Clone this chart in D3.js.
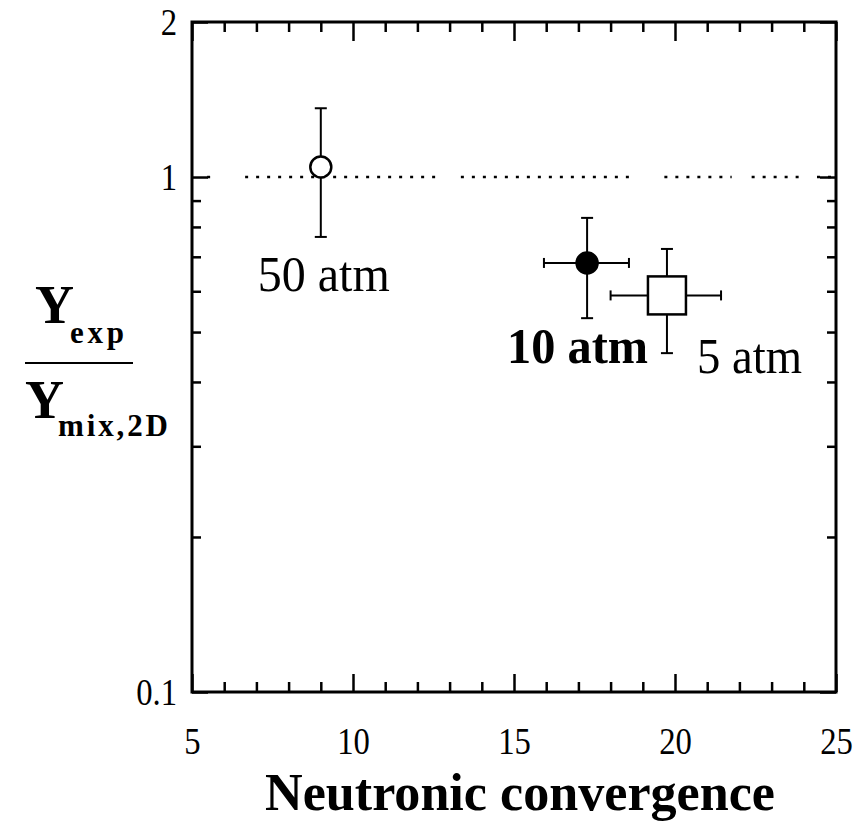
<!DOCTYPE html>
<html lang="en">
<head>
    <meta charset="utf-8">
    <title>Neutronic convergence</title>
    <style>
        body{ margin: 0; background: #fff; }
        svg text{ font-family: "Liberation Serif", "Times New Roman", serif; fill: #000; }
    </style>
</head>
<body>
    <script src="https://cdnjs.cloudflare.com/ajax/libs/d3/7.9.0/d3.min.js"></script>
    <script>

    // data
    const labels = ["50 atm", "10 atm", "5 atm"];
    const xVals = [9.0, 17.27, 19.75];
    const xLow = [null, 15.93, 18.0];
    const xHigh = [null, 18.57, 21.43];
    const yVals = [1.046, 0.681, 0.589];
    const yLow = [0.765, 0.532, 0.455];
    const yHigh = [1.36, 0.833, 0.725];
    const markers = ["openCircle", "filledCircle", "square"];

    const xTickLabels = [5, 10, 15, 20, 25];
    const yTickLabels = [0.1, 1, 2];
    // the reference line y = 1 is broken in a few places
    const refSegments = [[5.47, 5.72], [6.65, 12.73], [13.35, 18.74], [19.67, 21.76], [22.38, 23.85], [24.41, 25]];

    const width = 864, height = 822;
    const margin = {top: 22, right: 28, bottom: 130, left: 192};

    const svg = d3.select("body").append("svg")
        .attr("width", width)
        .attr("height", height);

    const x = d3.scaleLinear().domain([5, 25]).range([margin.left, width - margin.right]);
    const y = d3.scaleLog().domain([0.1, 2]).range([height - margin.bottom, margin.top]);

    const x0 = x.range()[0], x1 = x.range()[1];
    const y0 = y.range()[0], y1 = y.range()[1];

    const minorX = d3.range(5, 26, 1).filter(v => v % 5 !== 0);
    const minorY = [0.2, 0.3, 0.4, 0.5, 0.6, 0.7, 0.8, 0.9];

    function styleAxis(g){
        g.select(".domain").remove();
        g.selectAll("line").attr("stroke", "#000").attr("stroke-width", 2.5);
    }

    // the scanned tick labels are tall and narrow
    function narrowLabels(sel){
        sel.style("font-size", "38px").style("font-family", "Liberation Serif")
            .each(function(){
                const w = this.getComputedTextLength();
                d3.select(this).attr("textLength", w * 0.86).attr("lengthAdjust", "spacingAndGlyphs");
            });
    }

    // x ticks bottom
    svg.append("g").attr("transform", `translate(0,${y0})`)
        .call(d3.axisBottom(x).tickValues(minorX).tickSize(-10).tickFormat(""))
        .call(styleAxis);
    svg.append("g").attr("transform", `translate(0,${y0})`)
        .call(d3.axisBottom(x).tickValues(xTickLabels).tickSize(-18).tickPadding(35).tickFormat(d3.format("d")))
        .call(styleAxis)
        .selectAll("text").call(narrowLabels);

    // x ticks top
    svg.append("g").attr("transform", `translate(0,${y1})`)
        .call(d3.axisTop(x).tickValues(minorX).tickSize(-10).tickFormat(""))
        .call(styleAxis);
    svg.append("g").attr("transform", `translate(0,${y1})`)
        .call(d3.axisTop(x).tickValues(xTickLabels).tickSize(-19).tickFormat(""))
        .call(styleAxis);

    // y ticks left
    svg.append("g").attr("transform", `translate(${x0},0)`)
        .call(d3.axisLeft(y).tickValues(minorY).tickSize(-9).tickFormat(""))
        .call(styleAxis);
    svg.append("g").attr("transform", `translate(${x0},0)`)
        .call(d3.axisLeft(y).tickValues(yTickLabels).tickSize(-16).tickPadding(15).tickFormat(d => d < 1 ? d3.format(".1f")(d) : d3.format("d")(d)))
        .call(styleAxis)
        .selectAll("text").call(narrowLabels);

    // y ticks right
    svg.append("g").attr("transform", `translate(${x1},0)`)
        .call(d3.axisRight(y).tickValues(minorY).tickSize(-9).tickFormat(""))
        .call(styleAxis);
    svg.append("g").attr("transform", `translate(${x1},0)`)
        .call(d3.axisRight(y).tickValues(yTickLabels).tickSize(-16).tickFormat(""))
        .call(styleAxis);

    // frame
    svg.append("rect")
        .attr("x", x0).attr("y", y1)
        .attr("width", x1 - x0).attr("height", y0 - y1)
        .attr("fill", "none").attr("stroke", "#000").attr("stroke-width", 3);

    // dotted reference line
    svg.selectAll(".ref")
        .data(refSegments)
        .enter().append("line")
        .attr("class", "ref")
        .attr("x1", d => x(d[0])).attr("x2", d => x(d[1]))
        .attr("y1", y(1)).attr("y2", y(1))
        .attr("stroke", "#000").attr("stroke-width", 2.5)
        .attr("stroke-dasharray", "3,8");

    const pts = labels.map((l, i) => ({
        label: l, x: xVals[i], y: yVals[i], xl: xLow[i], xh: xHigh[i], yl: yLow[i], yh: yHigh[i], m: markers[i]
    }));

    const cap = 6;
    const eb = svg.append("g").attr("stroke", "#000").attr("stroke-width", 2);

    pts.forEach(d => {
        // vertical error bar
        eb.append("line").attr("x1", x(d.x)).attr("x2", x(d.x)).attr("y1", y(d.yl)).attr("y2", y(d.yh));
        eb.append("line").attr("x1", x(d.x) - cap).attr("x2", x(d.x) + cap).attr("y1", y(d.yl)).attr("y2", y(d.yl));
        eb.append("line").attr("x1", x(d.x) - cap).attr("x2", x(d.x) + cap).attr("y1", y(d.yh)).attr("y2", y(d.yh));
        if (d.xl != null){
            eb.append("line").attr("x1", x(d.xl)).attr("x2", x(d.xh)).attr("y1", y(d.y)).attr("y2", y(d.y));
            eb.append("line").attr("x1", x(d.xl)).attr("x2", x(d.xl)).attr("y1", y(d.y) - 5).attr("y2", y(d.y) + 5);
            eb.append("line").attr("x1", x(d.xh)).attr("x2", x(d.xh)).attr("y1", y(d.y) - 5).attr("y2", y(d.y) + 5);
        }
    });

    const mk = svg.append("g");
    pts.forEach(d => {
        if (d.m === "square"){
            mk.append("rect")
                .attr("x", x(d.x) - 19).attr("y", y(d.y) - 19)
                .attr("width", 38).attr("height", 38)
                .attr("fill", "#fff").attr("stroke", "#000").attr("stroke-width", 2.5);
        } else {
            mk.append("circle")
                .attr("cx", x(d.x)).attr("cy", y(d.y)).attr("r", 10.5)
                .attr("fill", d.m === "filledCircle" ? "#000" : "#fff")
                .attr("stroke", "#000").attr("stroke-width", 2.5);
        }
    });

    // point labels (offsets from the marker, in px)
    const labelStyle = [
        {dx: -63, dy: 124, w: 132, bold: false},
        {dx: -80, dy: 100, w: 141, bold: true},
        {dx: 30, dy: 78, w: 105, bold: false}
    ];
    pts.forEach((d, i) => {
        const s = labelStyle[i];
        svg.append("text")
            .attr("x", x(d.x) + s.dx).attr("y", y(d.y) + s.dy)
            .attr("textLength", s.w).attr("lengthAdjust", "spacingAndGlyphs")
            .style("font-size", "50px")
            .style("font-weight", s.bold ? "bold" : "normal")
            .text(d.label);
    });

    // x axis title
    svg.append("text")
        .attr("x", (x0 + x1) / 2 + 6).attr("y", 810)
        .attr("text-anchor", "middle")
        .attr("textLength", 510).attr("lengthAdjust", "spacingAndGlyphs")
        .style("font-size", "52px").style("font-weight", "bold")
        .text("Neutronic  convergence");

    // y axis title as a fraction
    const yt = svg.append("g").style("font-weight", "bold");
    yt.append("text").attr("x", 35).attr("y", 323).style("font-size", "54px").text("Y");
    yt.append("text").attr("x", 70).attr("y", 343).style("font-size", "31px")
        .attr("textLength", 54).attr("lengthAdjust", "spacing").text("exp");
    yt.append("line").attr("x1", 25).attr("x2", 133).attr("y1", 363).attr("y2", 363)
        .attr("stroke", "#000").attr("stroke-width", 2);
    yt.append("text").attr("x", 25).attr("y", 418).style("font-size", "54px").text("Y");
    yt.append("text").attr("x", 58).attr("y", 436).style("font-size", "31px")
        .attr("textLength", 110).attr("lengthAdjust", "spacing").text("mix,2D");

    </script>
</body>
</html>
